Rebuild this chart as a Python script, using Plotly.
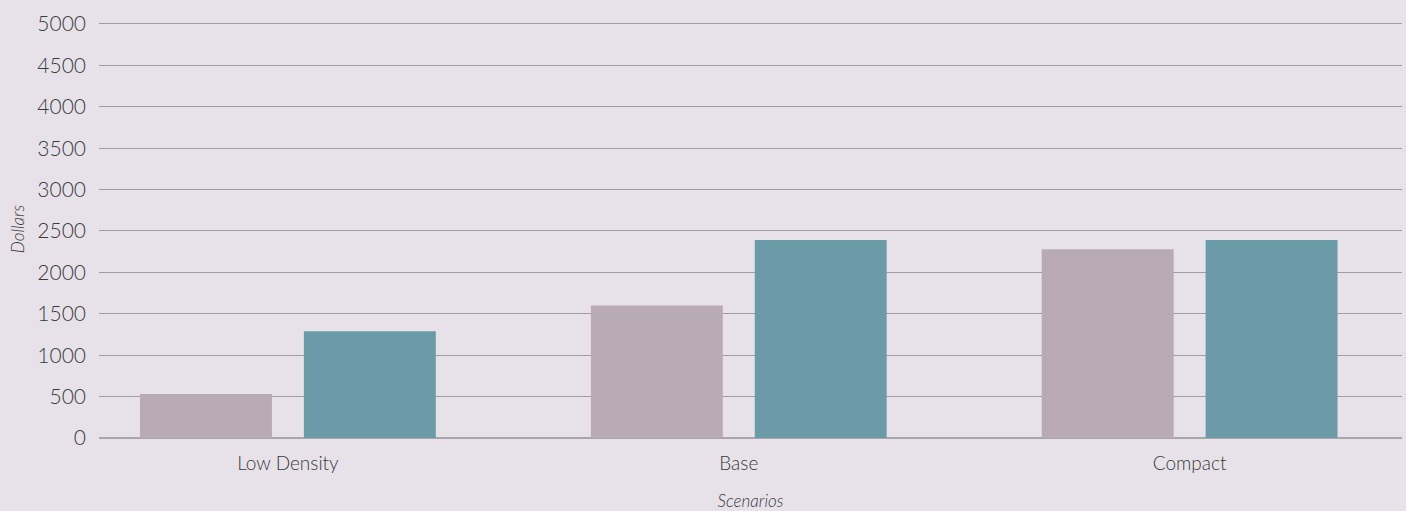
import plotly.graph_objects as go

categories = ["Low Density", "Base", "Compact"]
series_a = [530, 1600, 2280]
series_b = [1290, 2390, 2390]
y_ticks = [0, 500, 1000, 1500, 2000, 2500, 3000, 3500, 4000, 4500, 5000]

BG = "#e7e2ea"
FONT = "Lato, 'Open Sans', sans-serif"
TXT = "#3a3a3a"

fig = go.Figure()
fig.add_trace(go.Bar(x=categories, y=series_a, marker=dict(color="#b8abb7", line=dict(width=0)), name="A"))
fig.add_trace(go.Bar(x=categories, y=series_b, marker=dict(color="#6b9ba6", line=dict(width=0)), name="B"))

fig.update_layout(
    width=1406, height=511,
    margin=dict(l=99, r=4, t=20, b=73),
    paper_bgcolor=BG, plot_bgcolor=BG,
    barmode="group", bargap=0.273, bargroupgap=0.195,
    showlegend=False,
    font=dict(family=FONT, color=TXT, weight=300),
)
fig.update_xaxes(
    type="category", range=[-0.419, 2.471],
    showgrid=False, showline=False, zeroline=False,
    tickfont=dict(size=19, color=TXT, weight=300),
    ticks="", ticklabelstandoff=12,
    title=dict(text="Scenarios", font=dict(size=17, style="italic", color=TXT, weight=300), standoff=22),
)
fig.update_yaxes(
    range=[0, 5048], tickvals=y_ticks,
    showgrid=True, gridcolor="#a09ca3", gridwidth=1.3,
    zeroline=True, zerolinecolor="#a8a6aa", zerolinewidth=2,
    showline=False, ticks="",
    tickfont=dict(size=21, color=TXT, weight=300), ticklabelstandoff=12,
    title=dict(text="Dollars", font=dict(size=17, style="italic", color=TXT, weight=300), standoff=8),
)

fig.write_html("out.html")
